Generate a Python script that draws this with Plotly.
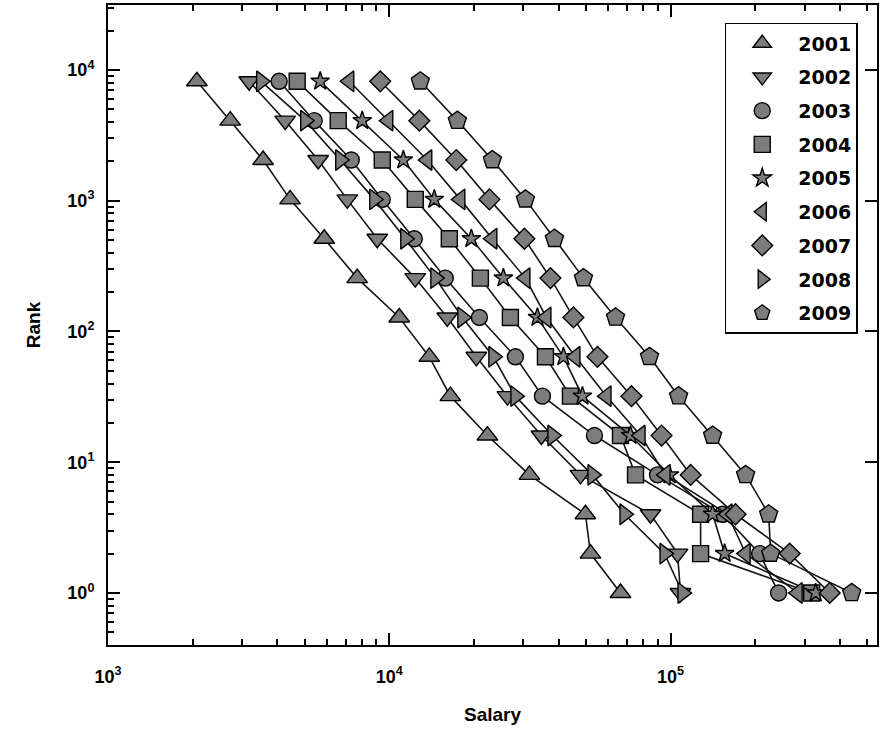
import plotly.graph_objects as go

ranks = [8192, 4096, 2048, 1024, 512, 256, 128, 64, 32, 16, 8, 4, 2, 1]

years = ["2001", "2002", "2003", "2004", "2005", "2006", "2007", "2008", "2009"]

salary_2001 = [2070, 2720, 3560, 4440, 5870, 7690, 10850, 13880, 16490, 22330, 31490, 49830, 51920, 66390]
salary_2002 = [3176, 4265, 5588, 7088, 9065, 12370, 16080, 20400, 26300, 34740, 47830, 84870, 105900, 108500]
salary_2003 = [4060, 5409, 7325, 9443, 12270, 15820, 20910, 28080, 35030, 53640, 89890, 153200, 207300, 242300]
salary_2004 = [4706, 6584, 9443, 12370, 16350, 21080, 26950, 35910, 44070, 66390, 75070, 127900, 127900, 317600]
salary_2005 = [5680, 8015, 11220, 14460, 19580, 25450, 33630, 41610, 48620, 72050, 99180, 141100, 155700, 328100]
salary_2006 = [7206, 9918, 13650, 17890, 23250, 30480, 36200, 45900, 59190, 78230, 95980, 159500, 184900, 283100]
salary_2007 = [9289, 12790, 17310, 22700, 30230, 37410, 45160, 54980, 72630, 92900, 117900, 170300, 265200, 368000]
salary_2008 = [3503, 5025, 6693, 8843, 11400, 14580, 18190, 23450, 28080, 38020, 52780, 68590, 95200, 110300]
salary_2009 = [12890, 17460, 23250, 30480, 38660, 49020, 63730, 84190, 106800, 141100, 184900, 223300, 227000, 440700]

x_ticks = [1e3, 1e4, 1e5]
x_ticktext = ["10<sup>3</sup>", "10<sup>4</sup>", "10<sup>5</sup>"]
y_ticks = [1, 10, 100, 1000, 10000]
y_ticktext = ["10<sup>0</sup>", "10<sup>1</sup>", "10<sup>2</sup>", "10<sup>3</sup>", "10<sup>4</sup>"]

series = [salary_2001, salary_2002, salary_2003, salary_2004, salary_2005,
          salary_2006, salary_2007, salary_2008, salary_2009]
symbols = ["triangle-up", "triangle-down", "circle", "square", "star",
           "triangle-left", "diamond", "triangle-right", "pentagon"]
sizes = [18, 18, 16, 16, 14, 18, 16, 18, 19]

FONT = "Liberation Sans, Arial, sans-serif"
LFONT = "DejaVu Sans, sans-serif"
X_RANGE = [3, 5.734]
Y_RANGE = [-0.398, 4.497]


def minor_vals(lo, hi):
    return [m * 10 ** e for e in range(lo, hi + 1) for m in range(2, 10)]


fig = go.Figure()
for name, sal, sym, sz in zip(years, series, symbols, sizes):
    fig.add_trace(go.Scatter(
        x=sal, y=ranks, mode="lines", legendgroup=name, showlegend=False,
        line=dict(color="#151515", width=1.6), hoverinfo="skip"))
    fig.add_trace(go.Scatter(
        x=sal, y=ranks, mode="markers", name=name, legendgroup=name,
        marker=dict(symbol=sym, size=sz, color="#7c7c7c",
                    line=dict(color="#000000", width=1.4))))

# empty trace so that the minor-tick overlay axes are drawn
fig.add_trace(go.Scatter(x=[], y=[], xaxis="x2", yaxis="y2",
                         showlegend=False, hoverinfo="skip"))

fig.update_layout(
    xaxis=dict(
        type="log", range=X_RANGE, tickmode="array", tickvals=x_ticks,
        ticktext=x_ticktext, showline=True, linecolor="black", linewidth=2,
        mirror="ticks", ticks="inside", ticklen=12, tickwidth=2,
        tickcolor="black", showgrid=False, zeroline=False,
        ticklabelstandoff=14,
        tickfont=dict(family=FONT, size=18, color="black", weight="bold"),
        title=dict(text="Salary", standoff=22,
                   font=dict(family=FONT, size=19, color="black", weight="bold"))),
    yaxis=dict(
        type="log", range=Y_RANGE, tickmode="array", tickvals=y_ticks,
        ticktext=y_ticktext, showline=True, linecolor="black", linewidth=2,
        mirror="ticks", ticks="inside", ticklen=12, tickwidth=2,
        tickcolor="black", showgrid=False, zeroline=False,
        ticklabelstandoff=8,
        tickfont=dict(family=FONT, size=18, color="black", weight="bold"),
        title=dict(text="Rank", standoff=22,
                   font=dict(family=FONT, size=19, color="black", weight="bold"))),
    xaxis2=dict(
        type="log", range=X_RANGE, overlaying="x", side="bottom",
        tickmode="array", tickvals=minor_vals(3, 5), showticklabels=False,
        ticks="inside", ticklen=6, tickwidth=1.5, tickcolor="black",
        mirror="ticks", showline=False, showgrid=False, zeroline=False),
    yaxis2=dict(
        type="log", range=Y_RANGE, overlaying="y", side="left",
        tickmode="array", tickvals=minor_vals(-1, 4), showticklabels=False,
        ticks="inside", ticklen=6, tickwidth=1.5, tickcolor="black",
        showline=False, showgrid=False, zeroline=False),
    width=881, height=744,
    margin=dict(l=108, r=2, t=5, b=99),
    paper_bgcolor="white", plot_bgcolor="white",
    showlegend=True,
    legend=dict(x=0.802, y=0.972, xanchor="left", yanchor="top",
                bgcolor="white", bordercolor="black", borderwidth=1.5,
                traceorder="grouped", tracegroupgap=6, itemwidth=62,
                font=dict(family=LFONT, size=19, color="black", weight="bold")),
)

fig.write_html("out.html")
